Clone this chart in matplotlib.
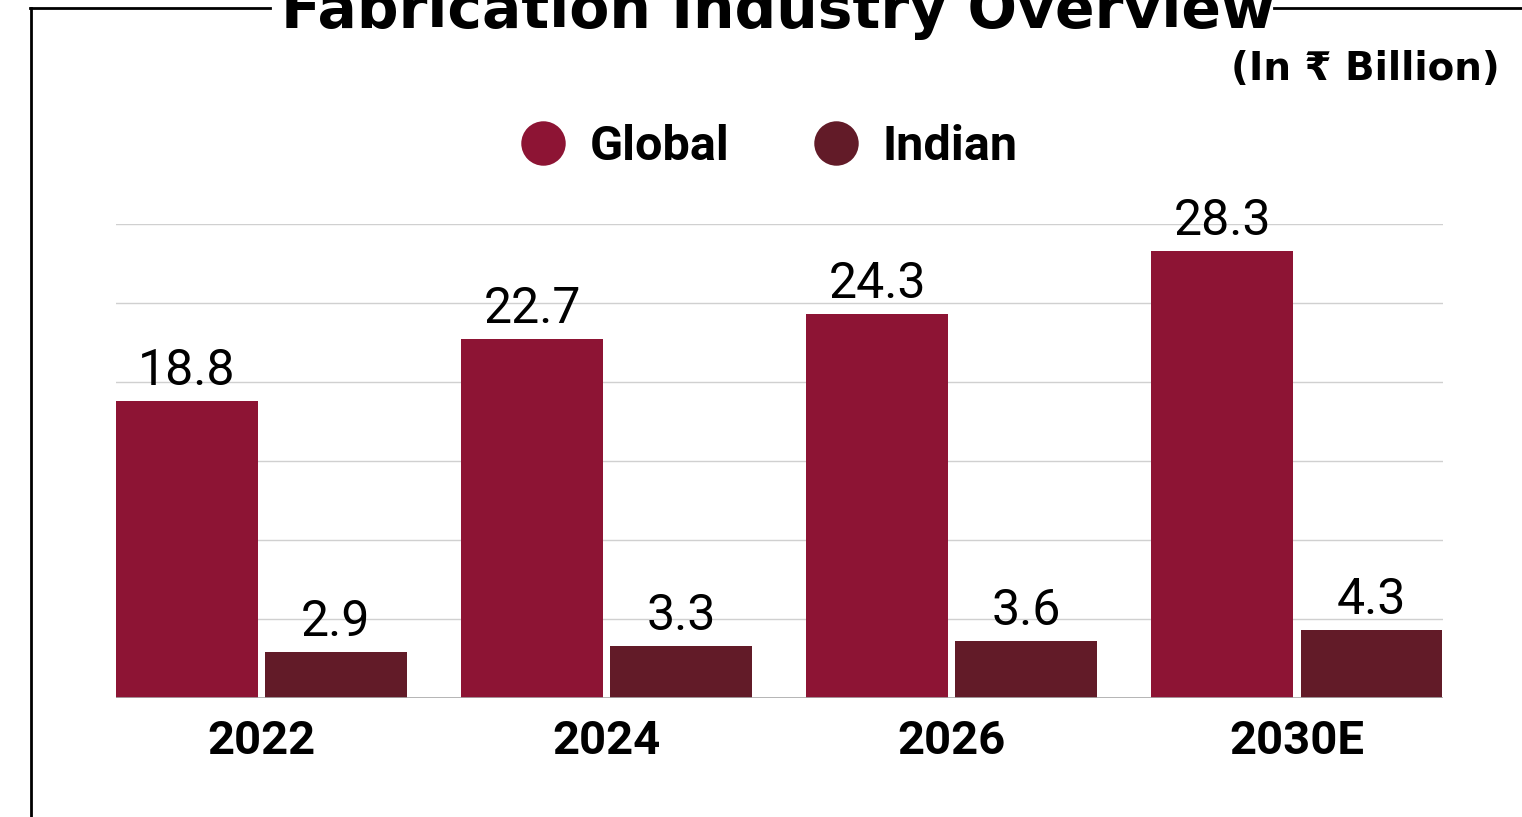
import numpy as np
import matplotlib.pyplot as plt
from matplotlib.lines import Line2D

# chart data
years = ['2022', '2024', '2026', '2030E']
global_vals = [18.8, 22.7, 24.3, 28.3]
indian_vals = [2.9, 3.3, 3.6, 4.3]

global_color = '#8d1434'
indian_color = '#621b28'

fig = plt.figure(figsize=(15.22, 8.17), dpi=100)
ax = fig.add_axes([0.0762, 0.1457, 0.8719, 0.5801])

x = np.arange(len(years))
w = 0.411
off = 0.216
b1 = ax.bar(x - off, global_vals, w, color=global_color, zorder=3)
b2 = ax.bar(x + off, indian_vals, w, color=indian_color, zorder=3)

# value labels above bars
for bars, vals in [(b1, global_vals), (b2, indian_vals)]:
    for rect, v in zip(bars, vals):
        ax.annotate(str(v), (rect.get_x() + rect.get_width() / 2, v),
                    xytext=(0, 4.5), textcoords='offset points',
                    ha='center', va='bottom', fontsize=36,
                    family=['Roboto', 'DejaVu Sans'], color='black',
                    annotation_clip=False)

ax.set_xlim(-0.421, 3.423)
ax.set_ylim(0, 30)
ax.set_yticks(np.arange(0, 31, 5))
ax.yaxis.grid(True, color='#d0d0d0', linewidth=1, zorder=0)
ax.axhline(0, color='#aaaaaa', linewidth=1.2, zorder=4)
ax.set_yticklabels([])
ax.tick_params(axis='y', length=0)
ax.set_xticks(x)
ax.set_xticklabels(years, fontsize=34, fontweight='bold', family=['Roboto', 'DejaVu Sans'])
ax.tick_params(axis='x', length=0, pad=15)
for s in ax.spines.values():
    s.set_visible(False)

# legend
handles = [Line2D([], [], marker='o', linestyle='none', markersize=32,
                  markerfacecolor=global_color, markeredgecolor='none', label='Global'),
           Line2D([], [], marker='o', linestyle='none', markersize=32,
                  markerfacecolor=indian_color, markeredgecolor='none', label='Indian')]
fig.legend(handles=handles, loc='center', bbox_to_anchor=(0.5056, 0.820), ncol=2,
           frameon=False, handlelength=0.9, handletextpad=0.5, columnspacing=1.75,
           prop={'family': ['Roboto', 'DejaVu Sans'], 'weight': 'bold', 'size': 35})

# title and unit
fig.text(0.5109, 0.9657, 'Fabrication Industry Overview', ha='center', va='baseline',
         fontsize=42, fontweight='bold', family=['DejaVu Sans'])
fig.text(0.9855, 0.916, '(In \u20b9 Billion)', ha='right', va='center',
         fontsize=28, fontweight='bold', family=['DejaVu Sans'])

# frame lines around the chart
fig.add_artist(Line2D([0.0204, 0.0204], [0.0, 0.990], color='black', linewidth=2))
fig.add_artist(Line2D([0.0197, 0.1774], [0.990, 0.990], color='black', linewidth=2))
fig.add_artist(Line2D([0.8370, 1.0], [0.990, 0.990], color='black', linewidth=2))

fig.savefig('out.png', dpi=100)
